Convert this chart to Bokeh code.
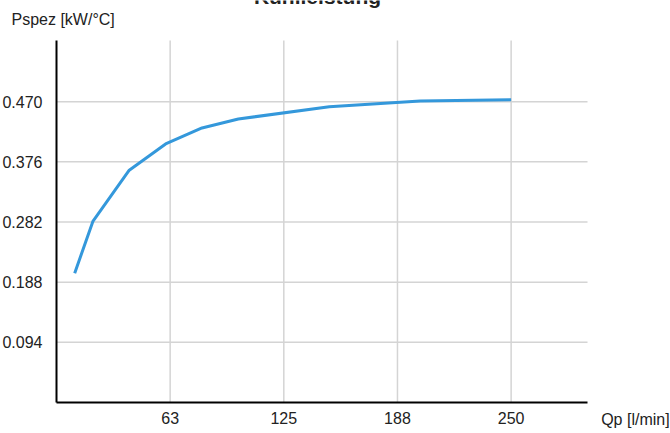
from bokeh.plotting import figure
from bokeh.models import Label, FixedTicker, Range1d, LinearAxis, Grid
from bokeh.embed import file_html
from bokeh.resources import INLINE

# Data
flow = [10, 20, 40, 60, 80, 100, 150, 200, 250]
power = [0.202, 0.283, 0.363, 0.404, 0.429, 0.443, 0.462, 0.471, 0.473]

x_ticks = [62.5, 125, 187.5, 250]
x_tick_labels = ["63", "125", "188", "250"]
y_ticks = [0.094, 0.188, 0.282, 0.376, 0.470]
y_tick_labels = ["0.094", "0.188", "0.282", "0.376", "0.470"]

title_text = "Kühlleistung"
x_title = "Qp [l/min]"
y_title = "Pspez [kW/°C]"

FONT = "Liberation Sans"
TXT = "#222222"
GRID = "#d4d4d4"

# axis extents (data units)
X_MAX = 292
Y_MAX = 0.5656

p = figure(width=670, height=433, output_backend="svg", toolbar_location=None,
           x_range=Range1d(-30.795, 337.64), y_range=Range1d(-0.04844, 0.628125),
           x_axis_location=None, y_axis_location=None, min_border=0)
p.styles = {"position": "absolute", "left": "0px", "top": "0px"}
p.outline_line_color = None
p.background_fill_color = "white"
p.border_fill_color = "white"
p.title.visible = False
# drop any default grids; grid lines are drawn within the axis extents below
p.center = [r for r in p.center if not isinstance(r, Grid)]

xt = FixedTicker(ticks=x_ticks)
yt = FixedTicker(ticks=y_ticks)

p.segment(x0=x_ticks, y0=[0] * len(x_ticks), x1=x_ticks, y1=[Y_MAX] * len(x_ticks),
          line_color=GRID, line_width=1.5)
p.segment(x0=[0] * len(y_ticks), y0=y_ticks, x1=[X_MAX] * len(y_ticks), y1=y_ticks,
          line_color=GRID, line_width=1.5)

p.line(flow, power, line_color="#3498db", line_width=3)

xaxis = LinearAxis(fixed_location=0, ticker=xt, bounds=(0, X_MAX))
yaxis = LinearAxis(fixed_location=0, ticker=yt, bounds=(0, Y_MAX))
for ax in (xaxis, yaxis):
    ax.axis_line_color = "black"
    ax.axis_line_width = 2
    ax.major_tick_line_color = None
    ax.minor_tick_line_color = None
    ax.major_tick_out = 0
    ax.major_tick_in = 0
    ax.major_label_text_font = FONT
    ax.major_label_text_font_size = "16px"
    ax.major_label_text_color = TXT
xaxis.major_label_overrides = {t: l for t, l in zip(x_ticks, x_tick_labels)}
xaxis.major_label_standoff = 10
yaxis.major_label_overrides = {t: l for t, l in zip(y_ticks, y_tick_labels)}
yaxis.major_label_standoff = 14
p.add_layout(xaxis, "below")
p.add_layout(yaxis, "left")

p.add_layout(Label(x=-24.75, y=0.5982, text=y_title, text_font=FONT, text_font_size="16px",
                   text_color=TXT, text_baseline="alphabetic", text_align="left"))
p.add_layout(Label(x=299.5, y=-0.0265, text=x_title, text_font=FONT, text_font_size="16px",
                   text_color=TXT, text_baseline="alphabetic", text_align="left"))
p.add_layout(Label(x=143.5, y=0.6345, text=title_text, text_font=FONT, text_font_size="21px",
                   text_font_style="bold", text_color=TXT, text_baseline="alphabetic",
                   text_align="center"))

open("out.html", "w").write(file_html(p, INLINE))
